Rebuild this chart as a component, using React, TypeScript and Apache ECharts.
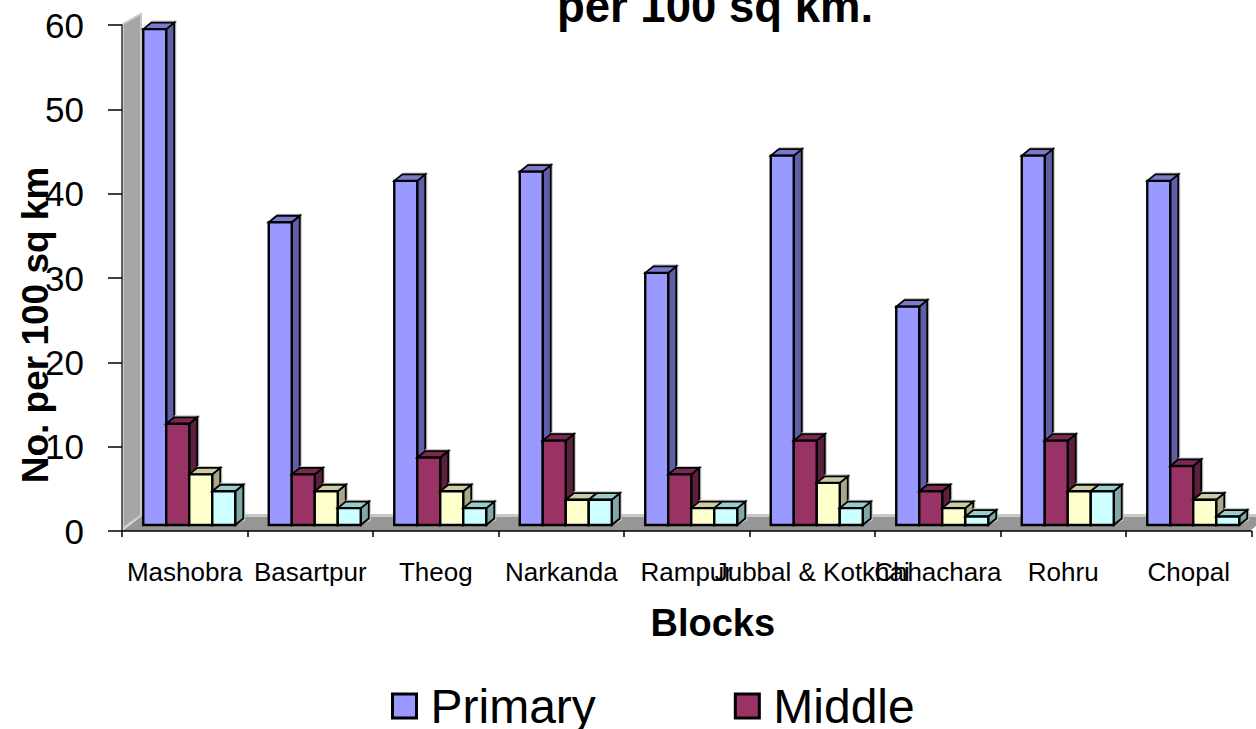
import React, { useEffect, useRef } from "react";
import * as echarts from "echarts";

const categories = ["Mashobra", "Basartpur", "Theog", "Narkanda", "Rampur", "Jubbal & Kotkhai", "Chhachara", "Rohru", "Chopal"];
const primary = [58.8, 35.9, 40.8, 41.9, 29.9, 43.8, 25.9, 43.8, 40.8];
const middle = [12, 6, 8, 10, 6, 10, 4, 10, 7];
const secondary = [6, 4, 4, 3, 2, 5, 2, 4, 3];
const senior = [4, 2, 2, 3, 2, 2, 1, 4, 1];
const yTicks = [0, 10, 20, 30, 40, 50, 60];

const palettes = [
  { name: "Primary", front: "#9999ff", side: "#5f5fa8", top: "#7a7acc", values: primary },
  { name: "Middle", front: "#993366", side: "#5c1f3e", top: "#7a2952", values: middle },
  { name: "Secondary", front: "#ffffcc", side: "#a8a888", top: "#cccca3", values: secondary },
  { name: "Sr. Secondary", front: "#ccffff", side: "#80a8a8", top: "#99cccc", values: senior },
];

const BAR_W = 23;
const DX = 8;
const DY = 6.5;
const LIFT = 6;
const FONT = "'Liberation Sans', Arial, sans-serif";

function makeRender(seriesIndex: number, front: string, side: string, top: string) {
  return (_p: any, api: any) => {
    const idx = api.value(0);
    const [cx, y0] = api.coord([idx, 0]);
    const [, yv] = api.coord([idx, api.value(1)]);
    const x0 = cx - 41.5 + seriesIndex * BAR_W;
    const x1 = x0 + BAR_W;
    const b = y0 - LIFT;
    const t = yv - LIFT;
    const stroke = { stroke: "#000", lineWidth: 1.8, lineJoin: "miter" };
    return {
      type: "group",
      children: [
        {
          type: "polygon",
          shape: { points: [[x0 + DX, t - DY - 2], [x1 + DX + 2, t - DY - 2], [x1 + DX + 2, b - DY + 2], [x1, b], [x0, b]] },
          style: { fill: "#c4c4c4" },
        },
        {
          type: "polygon",
          shape: { points: [[x1, t], [x1 + DX, t - DY], [x1 + DX, b - DY], [x1, b]] },
          style: { fill: side, ...stroke },
        },
        {
          type: "polygon",
          shape: { points: [[x0, t], [x0 + DX, t - DY], [x1 + DX, t - DY], [x1, t]] },
          style: { fill: top, ...stroke },
        },
        {
          type: "rect",
          shape: { x: x0, y: t, width: BAR_W, height: b - t },
          style: { fill: front, stroke: "#000", lineWidth: 2.4 },
        },
      ],
    };
  };
}

export default function App() {
  const ref = useRef<HTMLDivElement>(null);
  useEffect(() => {
    const chart = echarts.init(ref.current!, undefined, { renderer: "svg" });
    chart.setOption({
      animation: false,
      backgroundColor: "#fff",
      title: {
        text: "per 100 sq km.",
        left: 710,
        textAlign: "center",
        top: -22,
        textStyle: { fontFamily: FONT, fontSize: 45.5, fontWeight: "bold", color: "#000" },
      },
      grid: { left: 122, right: 4.5, top: 25, bottom: 198, containLabel: false, outerBoundsMode: "none" },
      legend: {
        data: ["Primary", "Middle"],
        left: 391,
        top: 682,
        padding: 0,
        icon: "rect",
        itemWidth: 24,
        itemHeight: 24,
        itemGap: 138,
        textStyle: { fontFamily: FONT, fontSize: 48, color: "#000", padding: [0, 0, 0, 9] },
        itemStyle: { borderColor: "#000", borderWidth: 3 },
      },
      xAxis: {
        type: "category",
        data: categories,
        name: "Blocks",
        nameLocation: "middle",
        nameGap: 73,
        nameMoveOverlap: false,
        nameTextStyle: { fontFamily: FONT, fontSize: 38, fontWeight: "bold", color: "#000", padding: [0, 0, 0, 52] },
        axisLine: { show: true, lineStyle: { color: "#000", width: 1.5 } },
        axisTick: { show: true, alignWithLabel: false, length: 6, lineStyle: { color: "#000", width: 1.5 } },
        axisLabel: { interval: 0, hideOverlap: false, margin: 28, fontFamily: FONT, fontSize: 26, color: "#000" },
      },
      yAxis: {
        type: "value",
        min: yTicks[0],
        max: yTicks[yTicks.length - 1],
        interval: 10,
        name: "No. per 100 sq km",
        nameLocation: "middle",
        nameGap: 68,
        nameRotate: 90,
        nameMoveOverlap: false,
        nameTextStyle: { fontFamily: FONT, fontSize: 37, fontWeight: "bold", color: "#000", padding: [0, 94, 0, 0] },
        splitLine: { show: false },
        axisLine: { show: true, lineStyle: { color: "#333", width: 1.5 } },
        axisTick: { show: true, length: 14, lineStyle: { color: "#000", width: 1.5 } },
        axisLabel: { margin: 38, fontFamily: FONT, fontSize: 35, color: "#000" },
      },
      graphic: [
        { type: "polygon", z: 0, shape: { points: [[122, 531], [143, 515], [1256, 515], [1256, 526], [1250, 531]] }, style: { fill: "#969696" } },
        { type: "rect", z: 0, shape: { x: 143, y: 514, width: 1113, height: 3 }, style: { fill: "#c8c8c8" } },
        { type: "polygon", z: 0, shape: { points: [[123, 24], [141, 14], [141, 515], [123, 528]] }, style: { fill: "#a6a6a6", stroke: "#c8c8c8", lineWidth: 2 } },
      ],
      series: palettes.map((p, i) => ({
        type: "custom",
        name: p.name,
        z: 5,
        itemStyle: { color: p.front },
        encode: { x: 0, y: 1 },
        clip: false,
        data: p.values.map((v, k) => [k, v]),
        renderItem: makeRender(i, p.front, p.side, p.top),
      })),
    });
    return () => chart.dispose();
  }, []);
  return <div ref={ref} style={{ position: "fixed", left: 0, top: 0, width: 1256, height: 729 }} />;
}
